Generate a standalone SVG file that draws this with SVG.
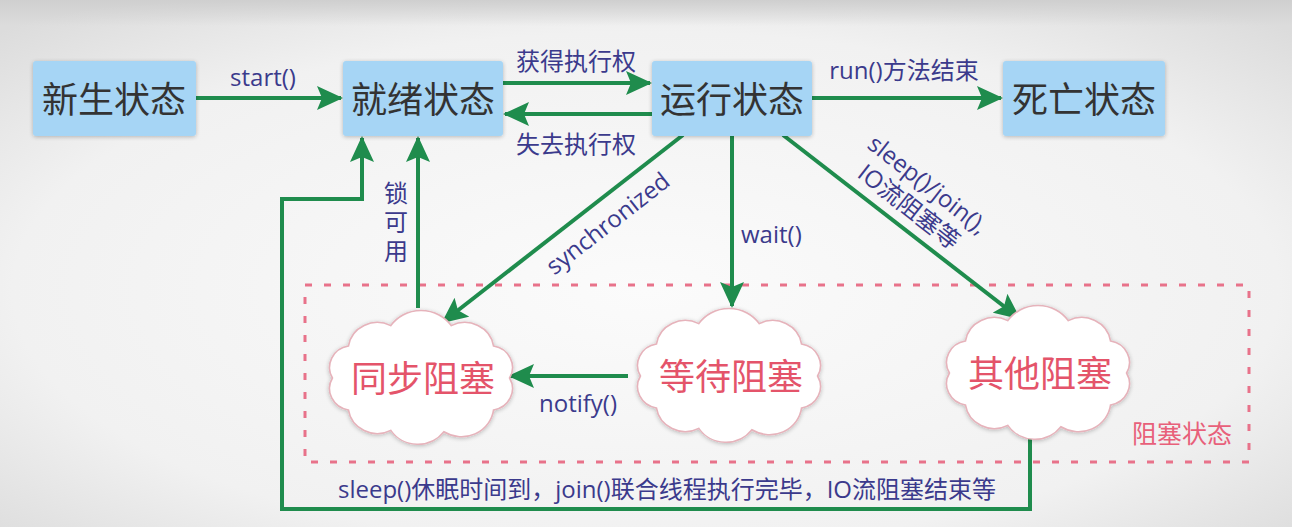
<svg xmlns="http://www.w3.org/2000/svg" width="1292" height="527" viewBox="0 0 1292 527">
<defs>
<radialGradient id="bg" cx="50%" cy="55%" r="70%">
<stop offset="0" stop-color="#fbfbfb"/>
<stop offset="0.7" stop-color="#f1f1f1"/>
<stop offset="1" stop-color="#dcdcdc"/>
</radialGradient>
<linearGradient id="topband" x1="0" y1="0" x2="0" y2="1">
<stop offset="0" stop-color="#cfcfcf"/>
<stop offset="1" stop-color="#cfcfcf" stop-opacity="0"/>
</linearGradient>
<marker id="ah" markerUnits="userSpaceOnUse" markerWidth="26" markerHeight="24" viewBox="0 0 26 24" refX="24" refY="12" orient="auto">
<path d="M0,0 L26,12 L0,24 L5,12 Z" fill="#1f8c4d"/>
</marker>
<path id="cloud" d="M82,0 A21,21 0 0 1 67.2,31 A30,30 0 0 1 21.2,52.2 A30,30 0 0 1 -28,50.8 A27,27 0 0 1 -67.2,31 A21,21 0 0 1 -82,0 A21,21 0 0 1 -67.2,-31 A27,27 0 0 1 -28,-50.8 A34,34 0 0 1 28,-50.8 A27,27 0 0 1 67.2,-31 A21,21 0 0 1 82,0 Z"/>
<filter id="sh" x="-10%" y="-10%" width="120%" height="130%">
<feGaussianBlur in="SourceAlpha" stdDeviation="2"/>
<feOffset dy="1"/>
<feComponentTransfer><feFuncA type="linear" slope="0.25"/></feComponentTransfer>
<feMerge><feMergeNode/><feMergeNode in="SourceGraphic"/></feMerge>
</filter>
</defs>
<style>
.box{fill:#a6d5f5;filter:url(#sh);}
.bt{font-family:"Noto Sans CJK SC",sans-serif;font-size:36px;fill:#333;text-anchor:middle;}
.lbl{font-family:"Open Sans","Noto Sans CJK SC",sans-serif;font-size:24px;fill:#3b3a8c;}
.cl{fill:#fff;stroke:#e6b3bb;stroke-width:1.5;filter:url(#sh);}
.ct{font-family:"Noto Sans CJK SC",sans-serif;font-size:36px;fill:#e4546a;text-anchor:middle;}
.ln{fill:none;stroke:#1f8c4d;stroke-width:4;}
.arr{marker-end:url(#ah);}
.dash{fill:none;stroke:#e8728a;stroke-width:3;stroke-dasharray:7 12;}
</style>
<rect width="1292" height="527" fill="url(#bg)"/>
<rect width="1292" height="26" fill="url(#topband)"/>

<g id="blocked-region">
<rect class="dash" x="305" y="285" width="944" height="177"/>
<text x="1182" y="443" style="font-family:'Noto Sans CJK SC',sans-serif;font-size:25px;fill:#e8607a;text-anchor:middle">阻塞状态</text>
</g>

<g id="connectors">
<line class="ln arr" x1="196" y1="98" x2="341" y2="98"/>
<line class="ln arr" x1="503" y1="83" x2="650" y2="83"/>
<line class="ln arr" x1="652" y1="114" x2="505" y2="114"/>
<line class="ln arr" x1="812" y1="98" x2="1001" y2="98"/>
<line class="ln arr" x1="683" y1="135" x2="443" y2="322"/>
<line class="ln arr" x1="732" y1="135" x2="732" y2="306"/>
<line class="ln arr" x1="783" y1="135" x2="1019" y2="318"/>
<line class="ln arr" x1="418" y1="308" x2="418" y2="138"/>
<line class="ln arr" x1="628" y1="376" x2="510" y2="376"/>
<polyline class="ln arr" points="1030,436 1030,509 282,509 282,199 362,199 362,138"/>
<text class="lbl" x="263" y="86" text-anchor="middle">start()</text>
<text class="lbl" x="576" y="70" text-anchor="middle">获得执行权</text>
<text class="lbl" x="576" y="153" text-anchor="middle">失去执行权</text>
<text class="lbl" x="904" y="79" text-anchor="middle">run()方法结束</text>
<text class="lbl" x="741" y="243">wait()</text>
<text class="lbl" x="578" y="412" text-anchor="middle">notify()</text>
<text class="lbl" transform="translate(613,230) rotate(-38)" text-anchor="middle">synchronized</text>
<g transform="translate(866,147) rotate(38)">
<text class="lbl" x="0" y="0">sleep()/join(),</text>
<text class="lbl" x="10" y="29">IO流阻塞等</text>
</g>
<text class="lbl" x="395" y="181" style="writing-mode:vertical-rl;letter-spacing:5px">锁可用</text>
<text class="lbl" x="667" y="498" text-anchor="middle">sleep()休眠时间到，join()联合线程执行完毕，IO流阻塞结束等</text>
</g>

<g id="new-state">
<rect class="box" x="33" y="61" width="163" height="75" rx="3"/>
<text class="bt" x="114" y="113">新生状态</text>
</g>
<g id="ready-state">
<rect class="box" x="343" y="61" width="160" height="75" rx="3"/>
<text class="bt" x="423" y="113">就绪状态</text>
</g>
<g id="running-state">
<rect class="box" x="652" y="61" width="160" height="75" rx="3"/>
<text class="bt" x="732" y="113">运行状态</text>
</g>
<g id="dead-state">
<rect class="box" x="1003" y="61" width="162" height="75" rx="3"/>
<text class="bt" x="1084" y="113">死亡状态</text>
</g>

<g id="sync-blocked">
<use href="#cloud" class="cl" transform="translate(421,378) scale(1.08,1.03)"/>
<text class="ct" x="423" y="392">同步阻塞</text>
</g>
<g id="wait-blocked">
<use href="#cloud" class="cl" transform="translate(729,376) scale(1.08,1.03)"/>
<text class="ct" x="731" y="390">等待阻塞</text>
</g>
<g id="other-blocked">
<use href="#cloud" class="cl" transform="translate(1038,373) scale(1.08,1.03)"/>
<text class="ct" x="1040" y="387">其他阻塞</text>
</g>
</svg>
